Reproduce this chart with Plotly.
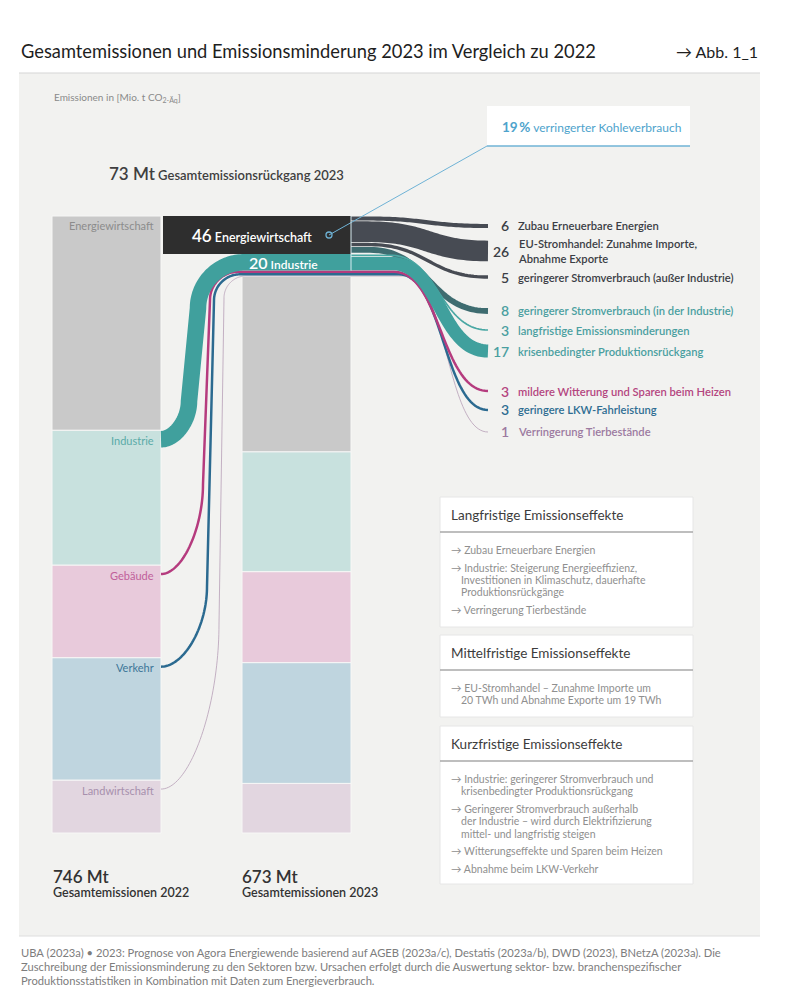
import numpy as np
import plotly.graph_objects as go

# ---------------- DATA ----------------
sectors = ["Energiewirtschaft", "Industrie", "Gebäude", "Verkehr", "Landwirtschaft"]
emissions_2022 = [259, 163, 112, 148, 64]
emissions_2023 = [212, 145, 110, 146, 60]
reductions = [46, 20, 3, 3, 1]
total_2022 = 746
total_2023 = 673
total_reduction = 73
coal_reduction_pct = 19

cause_sector = ["Energiewirtschaft", "Energiewirtschaft", "Energiewirtschaft", "Energiewirtschaft",
                "Industrie", "Industrie", "Gebäude", "Verkehr", "Landwirtschaft"]
cause_values = [6, 26, 5, 8, 3, 17, 3, 3, 1]
cause_labels = ["Zubau Erneuerbare Energien",
                "EU-Stromhandel: Zunahme Importe,<br>Abnahme Exporte",
                "geringerer Stromverbrauch (außer Industrie)",
                "geringerer Stromverbrauch (in der Industrie)",
                "langfristige Emissionsminderungen",
                "krisenbedingter Produktionsrückgang",
                "mildere Witterung und Sparen beim Heizen",
                "geringere LKW-Fahrleistung",
                "Verringerung Tierbestände"]

box_titles = ["Langfristige Emissionseffekte", "Mittelfristige Emissionseffekte", "Kurzfristige Emissionseffekte"]
box_items = [
    [["Zubau Erneuerbare Energien"],
     ["Industrie: Steigerung Energieeffizienz,", "Investitionen in Klimaschutz, dauerhafte", "Produktionsrückgänge"],
     ["Verringerung Tierbestände"]],
    [["EU-Stromhandel – Zunahme Importe um", "20 TWh und Abnahme Exporte um 19 TWh"]],
    [["Industrie: geringerer Stromverbrauch und", "krisenbedingter Produktionsrückgang"],
     ["Geringerer Stromverbrauch außerhalb", "der Industrie – wird durch Elektrifizierung", "mittel- und langfristig steigen"],
     ["Witterungseffekte und Sparen beim Heizen"],
     ["Abnahme beim LKW-Verkehr"]],
]

title = "Gesamtemissionen und Emissionsminderung 2023 im Vergleich zu 2022"
fig_ref = "→ Abb. 1_1"
unit_label = "Emissionen in [Mio. t CO<sub>2-Äq</sub>]"
footer_lines = [
    "UBA (2023a) • 2023: Prognose von Agora Energiewende basierend auf AGEB (2023a/c), Destatis (2023a/b), DWD (2023), BNetzA (2023a). Die",
    "Zuschreibung der Emissionsminderung zu den Sektoren bzw. Ursachen erfolgt durch die Auswertung sektor- bzw. branchenspezifischer",
    "Produktionsstatistiken in Kombination mit Daten zum Energieverbrauch.",
]

# ---------------- STYLE / LAYOUT ----------------
FONT = "Lato"
FIG_W, FIG_H = 786, 1000
BASE_PX, TOP_PX = 833, 216            # pixel rows of 0 Mt and 746 Mt
BAR22 = (52, 161)
BAR23 = (242, 351)
END_X = 488
PANEL = "#f2f2f0"
SLOTS_PX = [226, 251, 277, 311, 330, 351, 391, 410, 432]
BEND_X = [366, 368, 368, 370, 390, 392, 394, 399, 405]
LABEL_DROP = 9
GAP_PX = 0.8

SECTOR_FILL = {"Energiewirtschaft": "#c9c9c9", "Industrie": "#c8e1de", "Gebäude": "#e8cadb",
               "Verkehr": "#bfd5df", "Landwirtschaft": "#e2d6e0"}
SECTOR_TEXT = {"Energiewirtschaft": "#8c8c8c", "Industrie": "#5aaba8", "Gebäude": "#c0609a",
               "Verkehr": "#3d7598", "Landwirtschaft": "#a790ad"}
SECTOR_FLOW = {"Industrie": "#40a09d", "Gebäude": "#b53b7e", "Verkehr": "#2b6a90", "Landwirtschaft": "#b9a2b8"}
CAUSE_FLOW = ["#474b53", "#474b53", "#474b53", "#3e6c70", "#4aa8a4", "#40a09d", "#b53b7e", "#2b6a90", "#b9a2b8"]
CAUSE_TEXT = ["#3b3e45", "#3b3e45", "#3b3e45", "#4a9fa0", "#4a9fa0", "#4a9fa0", "#b4457f", "#2e6d92", "#9c7aa0"]
LANES = {"Industrie": dict(lane=189, rise=38, slant=9, rtop=46),
         "Gebäude": dict(lane=203, rise=90, slant=7, rtop=28),
         "Verkehr": dict(lane=207, rise=80, slant=7, rtop=26),
         "Landwirtschaft": dict(lane=219, rise=165, slant=5, rtop=22)}

s = (BASE_PX - TOP_PX) / total_2022   # px per Mt
y_lo = -(FIG_H - BASE_PX) / s
y_hi = BASE_PX / s


def py2mt(py):
    return (BASE_PX - np.asarray(py, dtype=float)) / s


def mt2py(v):
    return BASE_PX - v * s


def cubic(p0, p1, p2, p3, n=48):
    t = np.linspace(0, 1, n)[:, None]
    p0, p1, p2, p3 = (np.asarray(p, dtype=float) for p in (p0, p1, p2, p3))
    return (1 - t) ** 3 * p0 + 3 * (1 - t) ** 2 * t * p1 + 3 * (1 - t) * t ** 2 * p2 + t ** 3 * p3


def seg(a, b):
    return np.array([a, b], dtype=float)


def join(*segs):
    out = [segs[0]]
    for sg in segs[1:]:
        out.append(sg[1:])
    return np.vstack(out)


def s_curve(x0, y0, x1, y1):
    dx = x1 - x0
    return cubic((x0, y0), (x0 + 0.5 * dx, y0), (x1 - 0.5 * dx, y1), (x1, y1))


fig = go.Figure()

# ---- stacked bars (2022, 2023) ----
for vals, (x0, x1) in ((emissions_2022, BAR22), (emissions_2023, BAR23)):
    base = 0
    for name, v in reversed(list(zip(sectors, vals))):
        fig.add_trace(go.Bar(x=[(x0 + x1) / 2], y=[v], base=[base], width=[x1 - x0],
                             marker=dict(color=SECTOR_FILL[name], line=dict(color="#f7f7f6", width=1)),
                             hoverinfo="skip"))
        base += v

# reduction stack above the 2023 bar (top: Energiewirtschaft ... bottom: Landwirtschaft)
red_top = {}
red_bottom = {}
acc = total_2023
for name, r in reversed(list(zip(sectors, reductions))):
    red_bottom[name] = acc
    red_top[name] = acc + r
    acc += r

# Energiewirtschaft reduction block
fig.add_trace(go.Bar(x=[(BAR22[1] + 2 + BAR23[1]) / 2], y=[reductions[0]], base=[red_bottom["Energiewirtschaft"]],
                     width=[BAR23[1] - BAR22[1] - 2], marker=dict(color="#2e2e2e", line=dict(width=0)),
                     hoverinfo="skip"))

# segment tops in 2022 bar (px)
seg_top_px = {}
acc = total_2022
for name, v in zip(sectors, emissions_2022):
    seg_top_px[name] = mt2py(acc)
    acc -= v


def add_path(pts, width_px, color):
    fig.add_trace(go.Scatter(x=pts[:, 0], y=py2mt(pts[:, 1]), mode="lines",
                             line=dict(color=color, width=width_px, simplify=False),
                             hoverinfo="skip"))


# ---- left flows (2022 sector -> reduction stack) ----
K = 0.5
for name in ["Landwirtschaft", "Verkehr", "Gebäude", "Industrie"]:
    r = reductions[sectors.index(name)]
    L = LANES[name]
    ys = seg_top_px[name] + LABEL_DROP
    yt = mt2py((red_top[name] + red_bottom[name]) / 2)
    x0 = BAR22[1]
    pa = (L["lane"], ys - L["rise"])
    pb = (L["lane"] + L["slant"], yt + L["rtop"])
    pc = (pb[0] + L["rtop"], yt)
    s1 = cubic((x0, ys), (x0 + K * (pa[0] - x0), ys), (pa[0], pa[1] + K * L["rise"]), pa)
    s2 = seg(pa, pb)
    s3 = cubic(pb, (pb[0], pb[1] - 0.55 * L["rtop"]), (pc[0] - 0.55 * L["rtop"], yt), pc)
    parts = [s1, s2, s3]
    if name == "Industrie":
        parts.append(seg(pc, (BAR23[1], yt)))
    else:
        ci = cause_sector.index(name)
        parts.append(seg(pc, (BEND_X[ci], yt)))
        parts.append(s_curve(BEND_X[ci], yt, END_X, SLOTS_PX[ci]))
    add_path(join(*parts), r * s, SECTOR_FLOW[name])

# ---- right flows from Energiewirtschaft and Industrie ----
for grp in ["Energiewirtschaft", "Industrie"]:
    acc = red_top[grp]
    for i, (cs, v) in enumerate(zip(cause_sector, cause_values)):
        if cs != grp:
            continue
        yc = mt2py(acc - v / 2)
        acc -= v
        pts = join(seg((BAR23[1], yc), (BEND_X[i], yc)), s_curve(BEND_X[i], yc, END_X, SLOTS_PX[i]))
        add_path(pts, max(v * s - GAP_PX, 1), CAUSE_FLOW[i])

# ---------------- shapes & annotations ----------------
shapes = []
ann = []


def px(x):
    return x / FIG_W


def py(y):
    return 1 - y / FIG_H


def rect(x0, y0, x1, y1, color, layer="below", line=None):
    shapes.append(dict(type="rect", xref="paper", yref="paper", x0=px(x0), x1=px(x1), y0=py(y1), y1=py(y0),
                       fillcolor=color, line=line or dict(width=0), layer=layer))


def hline(x0, x1, y, color, w=1, layer="above"):
    shapes.append(dict(type="line", xref="paper", yref="paper", x0=px(x0), x1=px(x1), y0=py(y), y1=py(y),
                       line=dict(color=color, width=w), layer=layer))


def txt(x, y, text, size, color, xanchor="left", yanchor="middle", align="left", weight=400):
    ann.append(dict(x=px(x), y=py(y), xref="paper", yref="paper", text=text, showarrow=False,
                    xanchor=xanchor, yanchor=yanchor, align=align,
                    font=dict(size=size, color=color, family=FONT, weight=weight)))


# panel
rect(19, 73, 760, 936, PANEL)
hline(19, 760, 73, "#d6d6d6", 1.2, "below")
hline(19, 760, 936, "#dedede", 1, "below")

# title
txt(19, 51, title, 18.3, "#1e1e1e", weight=400)
txt(760, 51, fig_ref, 16, "#1e1e1e", xanchor="right", weight=400)
txt(52, 98, unit_label, 10, "#8a8a8a", weight=400)

# total reduction
txt(107, 173, f"<span style='font-size:17px'>{total_reduction} Mt</span> Gesamtemissionsrückgang 2023",
    13, "#3f3f3f", weight=600)

# coal callout box
rect(487, 106, 690, 146, "#ffffff")
hline(487, 690, 146, "#6fb3d6", 1.3)
txt(500, 127, f"<b><span style='font-size:13.5px'>{coal_reduction_pct}\u2009%</span></b> verringerter Kohleverbrauch",
    12, "#4ea3cc")
ebox_mid = mt2py((red_top["Energiewirtschaft"] + red_bottom["Energiewirtschaft"]) / 2)
dot_x = BAR23[1] - 22
shapes.append(dict(type="line", xref="paper", yref="paper", x0=px(dot_x), y0=py(ebox_mid), x1=px(487), y1=py(146),
                   line=dict(color="#6fb3d6", width=1), layer="above"))
fig.add_trace(go.Scatter(x=[dot_x], y=py2mt([ebox_mid]), mode="markers",
                         marker=dict(size=6, color="#2e2e2e", line=dict(color="#6fb3d6", width=1.3)),
                         hoverinfo="skip"))

# separator line at right edge of reduction block
shapes.append(dict(type="line", xref="x", yref="y", x0=BAR23[1], x1=BAR23[1],
                   y0=red_bottom["Industrie"], y1=red_top["Energiewirtschaft"],
                   line=dict(color="#d8ecf2", width=1), layer="above"))

# labels on reduction block
txt(190, ebox_mid, f"<span style='font-size:17px'>{reductions[0]}</span> Energiewirtschaft",
    12.5, "#ffffff", weight=600)
ind_mid = mt2py((red_top["Industrie"] + red_bottom["Industrie"]) / 2)
txt(247, ind_mid, f"<span style='font-size:16px'>{reductions[1]}</span> Industrie", 12, "#ffffff", weight=600)

# sector labels inside the 2022 bar
for name in sectors:
    txt(BAR22[1] - 5, seg_top_px[name] + LABEL_DROP + 1, name, 11, SECTOR_TEXT[name], xanchor="right")

# cause labels
for i, (v, lab) in enumerate(zip(cause_values, cause_labels)):
    txt(511, SLOTS_PX[i], f"{v}", 14, CAUSE_TEXT[i], xanchor="right", weight=600)
    txt(516, SLOTS_PX[i], lab, 11.2, CAUSE_TEXT[i], weight=600)

# totals below bars
txt(51, 876, f"{total_2022} Mt", 17, "#333333", weight=600)
txt(51, 892, "Gesamtemissionen 2022", 12.5, "#333333", weight=600)
txt(240, 876, f"{total_2023} Mt", 17, "#333333", weight=600)
txt(240, 892, "Gesamtemissionen 2023", 12.5, "#333333", weight=600)

# effect boxes
BOXES = [(497, 627, 532), (635, 717, 670), (726, 884, 761)]
for (y0, y1, ysep), bt, items in zip(BOXES, box_titles, box_items):
    rect(440, y0, 693, y1, "#ffffff", layer="above", line=dict(color="#e6e6e6", width=1))
    hline(440, 693, ysep, "#a8a8a8", 1.5)
    txt(449, (y0 + ysep) / 2, bt, 13.5, "#3c3c3c")
    y = ysep + 18
    for item in items:
        for j, line in enumerate(item):
            if j == 0:
                txt(449, y, "→ " + line, 10.5, "#8f8f8f", weight=400)
            else:
                txt(459, y, line, 10.5, "#8f8f8f", weight=400)
            y += 12.3
        y += 5.5

# footer
for i, line in enumerate(footer_lines):
    txt(19, 952 + i * 14, line, 11.2, "#7d7d7d", weight=400)

fig.update_layout(
    width=FIG_W, height=FIG_H, margin=dict(l=0, r=0, t=0, b=0),
    paper_bgcolor="#ffffff", plot_bgcolor="rgba(0,0,0,0)",
    barmode="overlay", showlegend=False,
    xaxis=dict(range=[0, FIG_W], visible=False, fixedrange=True),
    yaxis=dict(range=[y_lo, y_hi], visible=False, fixedrange=True),
    shapes=shapes, annotations=ann,
    font=dict(family=FONT),
)

fig.write_html("out.html", post_script="document.body.style.margin='0';", config={"displayModeBar": False})
